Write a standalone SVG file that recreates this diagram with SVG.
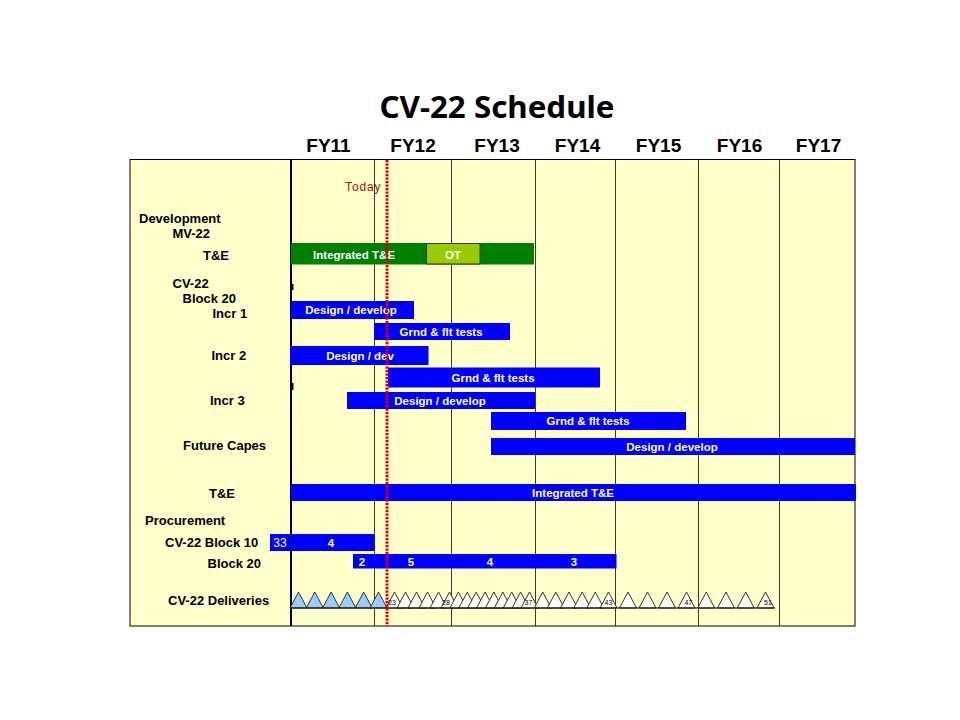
<svg xmlns="http://www.w3.org/2000/svg" width="960" height="720" viewBox="0 0 960 720">
<style>
.lbl{font-family:"Liberation Sans",Arial,sans-serif;font-weight:bold;font-size:13px;fill:#000}
.fy{font-family:"Liberation Sans",Arial,sans-serif;font-weight:bold;font-size:19px;fill:#000;text-anchor:middle}
.bt{font-family:"Liberation Sans",Arial,sans-serif;font-weight:bold;font-size:11.5px;fill:#fff;text-anchor:middle}
.blue{fill:#0000ff}
.grid{stroke:#3a3a2a;stroke-width:1}
.tw{fill:#fffff8;stroke:#333;stroke-width:1;stroke-linejoin:miter}
.tb{fill:#99ccff;stroke:#333;stroke-width:1}
.dl{font-family:"Liberation Sans",Arial,sans-serif;font-size:7px;fill:#000}
</style>
<defs>
<polygon id="tri" points="0,16 8.5,0 17,16"/>
</defs>
<rect width="960" height="720" fill="#fff"/>
<text x="497" y="118" text-anchor="middle" font-family="'Noto Sans','Open Sans',sans-serif" font-weight="bold" font-size="31" textLength="235" lengthAdjust="spacingAndGlyphs" fill="#000">CV-22 Schedule</text>

<g id="years">
<text class="fy" x="328.5" y="152">FY11</text>
<text class="fy" x="413" y="152">FY12</text>
<text class="fy" x="497" y="152">FY13</text>
<text class="fy" x="577.5" y="152">FY14</text>
<text class="fy" x="658.5" y="152">FY15</text>
<text class="fy" x="739.5" y="152">FY16</text>
<text class="fy" x="818.5" y="152">FY17</text>
</g>

<g id="chart-frame">
<rect x="130" y="159.5" width="725" height="466.5" fill="#ffffcc" stroke="#000" stroke-width="1"/>
<line class="grid" x1="374.5" y1="160" x2="374.5" y2="626"/>
<line class="grid" x1="451.5" y1="160" x2="451.5" y2="626"/>
<line class="grid" x1="535.5" y1="160" x2="535.5" y2="626"/>
<line class="grid" x1="615.5" y1="160" x2="615.5" y2="626"/>
<line class="grid" x1="698.5" y1="160" x2="698.5" y2="626"/>
<line class="grid" x1="779.5" y1="160" x2="779.5" y2="626"/>
<line x1="291" y1="160" x2="291" y2="626" stroke="#000" stroke-width="2"/>
<line x1="292.5" y1="284" x2="292.5" y2="290" stroke="#000" stroke-width="2"/>
<line x1="292.5" y1="383" x2="292.5" y2="390" stroke="#000" stroke-width="2"/>
</g>

<g id="labels">
<text class="lbl" x="139" y="223">Development</text>
<text class="lbl" x="172.5" y="238">MV-22</text>
<text class="lbl" x="203" y="260">T&amp;E</text>
<text class="lbl" x="172.5" y="288">CV-22</text>
<text class="lbl" x="182.5" y="303">Block 20</text>
<text class="lbl" x="212.5" y="318">Incr 1</text>
<text class="lbl" x="211.5" y="360">Incr 2</text>
<text class="lbl" x="210" y="405">Incr 3</text>
<text class="lbl" x="183" y="450">Future Capes</text>
<text class="lbl" x="209" y="498">T&amp;E</text>
<text class="lbl" x="145" y="525">Procurement</text>
<text class="lbl" x="165" y="547">CV-22 Block 10</text>
<text class="lbl" x="207.5" y="567.5">Block 20</text>
<text class="lbl" x="168" y="605">CV-22 Deliveries</text>
</g>

<g id="mv22-te">
<rect x="291" y="243" width="243" height="21.5" fill="#008000"/>
<text class="bt" x="354" y="258.5">Integrated T&amp;E</text>
<rect x="426.5" y="243.5" width="53.5" height="20.5" fill="#99cc00" stroke="#333" stroke-width="1"/>
<text class="bt" x="453" y="258.5" font-size="12">OT</text>
</g>

<g id="incr1">
<rect class="blue" x="291" y="301" width="123" height="18"/>
<text class="bt" x="351" y="314">Design / develop</text>
<rect class="blue" x="374" y="323" width="136" height="17"/>
<text class="bt" x="441" y="335.5">Grnd &amp; flt tests</text>
</g>

<g id="incr2">
<rect class="blue" x="290" y="346" width="138.5" height="19"/>
<text class="bt" x="360" y="359.5">Design / dev</text>
<rect class="blue" x="388" y="367.5" width="212" height="20"/>
<text class="bt" x="493" y="381.5">Grnd &amp; flt tests</text>
</g>

<g id="incr3">
<rect class="blue" x="347" y="392" width="188" height="17"/>
<text class="bt" x="440" y="404.5">Design / develop</text>
<rect class="blue" x="491" y="412" width="195" height="18"/>
<text class="bt" x="588" y="425">Grnd &amp; flt tests</text>
</g>

<g id="future-capes">
<rect class="blue" x="491" y="438" width="364" height="17"/>
<text class="bt" x="672" y="450.5">Design / develop</text>
</g>

<g id="cv22-te">
<rect class="blue" x="291" y="484" width="565" height="17"/>
<text class="bt" x="573" y="496.5">Integrated T&amp;E</text>
</g>

<g id="block10">
<rect class="blue" x="270" y="534" width="20" height="17"/>
<text x="280" y="547" text-anchor="middle" font-family="'Liberation Sans',Arial,sans-serif" font-size="12" fill="#fff">33</text>
<rect class="blue" x="291" y="534" width="83.5" height="17"/>
<text class="bt" x="331" y="546.5">4</text>
</g>

<g id="block20">
<rect class="blue" x="353" y="554" width="263.5" height="14.5"/>
<text class="bt" x="362" y="565.5">2</text>
<text class="bt" x="411" y="565.5">5</text>
<text class="bt" x="490" y="565.5">4</text>
<text class="bt" x="574" y="565.5">3</text>
</g>

<g id="deliveries">
<use href="#tri" class="tb" x="290" y="592"/>
<use href="#tri" class="tb" x="306.3" y="592"/>
<use href="#tri" class="tb" x="322.6" y="592"/>
<use href="#tri" class="tb" x="338.9" y="592"/>
<use href="#tri" class="tb" x="355.2" y="592"/>
<use href="#tri" class="tb" x="370" y="592"/>
<use href="#tri" class="tw" x="386" y="592"/>
<use href="#tri" class="tw" x="397" y="592"/>
<use href="#tri" class="tw" x="408" y="592"/>
<use href="#tri" class="tw" x="419" y="592"/>
<use href="#tri" class="tw" x="430" y="592"/>
<use href="#tri" class="tw" x="441" y="592"/>
<use href="#tri" class="tw" x="449.9" y="592"/>
<use href="#tri" class="tw" x="458.8" y="592"/>
<use href="#tri" class="tw" x="467.7" y="592"/>
<use href="#tri" class="tw" x="476.6" y="592"/>
<use href="#tri" class="tw" x="485.4" y="592"/>
<use href="#tri" class="tw" x="494.3" y="592"/>
<use href="#tri" class="tw" x="503.2" y="592"/>
<use href="#tri" class="tw" x="512.1" y="592"/>
<use href="#tri" class="tw" x="521" y="592"/>
<use href="#tri" class="tw" x="534.2" y="592"/>
<use href="#tri" class="tw" x="547.3" y="592"/>
<use href="#tri" class="tw" x="560.5" y="592"/>
<use href="#tri" class="tw" x="573.7" y="592"/>
<use href="#tri" class="tw" x="586.8" y="592"/>
<use href="#tri" class="tw" x="600" y="592"/>
<use href="#tri" class="tw" x="619.5" y="592"/>
<use href="#tri" class="tw" x="639" y="592"/>
<use href="#tri" class="tw" x="658.5" y="592"/>
<use href="#tri" class="tw" x="678" y="592"/>
<use href="#tri" class="tw" x="697.75" y="592"/>
<use href="#tri" class="tw" x="717.5" y="592"/>
<use href="#tri" class="tw" x="737.25" y="592"/>
<use href="#tri" class="tw" x="757" y="592"/>
<line x1="290" y1="608" x2="775" y2="608" stroke="#000" stroke-width="1.2"/>
<text class="dl" x="388" y="605">23</text>
<text class="dl" x="442" y="605">28</text>
<text class="dl" x="524.5" y="605">37</text>
<text class="dl" x="604.5" y="605">43</text>
<text class="dl" x="684.5" y="605">47</text>
<text class="dl" x="764" y="605">51</text>
</g>

<g id="today">
<line x1="387" y1="160" x2="387" y2="626" stroke="#dd0000" stroke-width="3" stroke-dasharray="2.2 1.3"/>
<text x="345" y="191" font-family="'Liberation Sans',Arial,sans-serif" font-size="12" letter-spacing="0.9" fill="#aa1111">Today</text>
</g>
</svg>
